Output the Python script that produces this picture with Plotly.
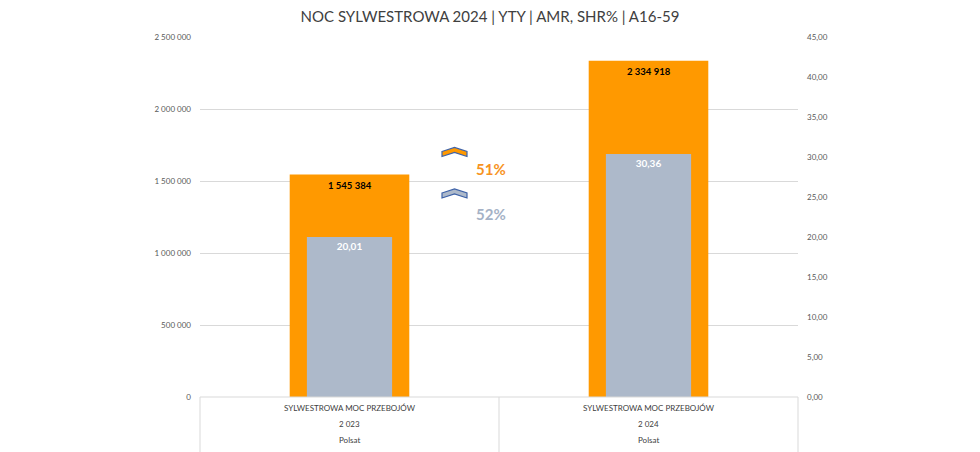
import plotly.graph_objects as go

# ---- data ----
programs = ["SYLWESTROWA MOC PRZEBOJÓW", "SYLWESTROWA MOC PRZEBOJÓW"]
years = ["2 023", "2 024"]
channels = ["Polsat", "Polsat"]
amr = [1545384, 2334918]
shr = [20.01, 30.36]
change_labels = ["51%", "52%"]

ORANGE = "#FF9900"
GREY = "#ADB9CA"
FONT = "Lato, Open Sans, sans-serif"

W, H = 980, 452
L, R, T, B = 200, 182, 37, 55
PW, PH = W - L - R, H - T - B


def px(x, y):
    """pixel -> paper coords"""
    return (x - L) / PW, (H - B - y) / PH


x = list(range(len(amr)))

fig = go.Figure()
fig.add_trace(go.Bar(
    x=x, y=amr, width=0.4, marker=dict(color=ORANGE, line_width=0),
    name="AMR", yaxis="y", hoverinfo="y",
))
fig.add_trace(go.Bar(
    x=x, y=shr, width=0.285, marker=dict(color=GREY, line_width=0),
    texttemplate="%{y:.2f}", textposition="inside", insidetextanchor="end",
    textfont=dict(family=FONT, size=10, color="white", weight="bold"),
    name="SHR%", yaxis="y2", hoverinfo="y",
))

# AMR value labels just under the bar tops
for i, v in zip(x, amr):
    fig.add_annotation(x=i, y=v, xref="x", yref="y", yshift=-11,
                       text=f"{v:,}".replace(",", " "), showarrow=False,
                       font=dict(family=FONT, size=9.5, color="black", weight="bold"))

# category table under the axis
bottom = px(0, H)[1]
for xp in (0, 1):
    fig.add_shape(type="line", xref="paper", yref="paper", x0=xp, x1=xp,
                  y0=0, y1=bottom, line=dict(color="#d9d9d9", width=1))
fig.add_shape(type="line", xref="x", yref="paper", x0=0.5, x1=0.5,
              y0=0, y1=bottom, line=dict(color="#d9d9d9", width=1))
fig.add_shape(type="line", xref="paper", yref="paper", x0=0, x1=1,
              y0=0, y1=0, line=dict(color="#d9d9d9", width=1))

for i in x:
    for row, txt in enumerate((programs[i], years[i], channels[i])):
        fig.add_annotation(
            x=i, xref="x", y=px(0, 408 + row * 16)[1], yref="paper",
            text=txt, showarrow=False, yanchor="middle",
            font=dict(family=FONT, size=8, color="#404040"),
        )

# chevrons + YoY change labels
def chevron(cx, top, fill):
    pts = [(-12.5, 4), (0, 0), (12.5, 4), (12.5, 9), (0, 5), (-12.5, 9)]
    path = "M " + " L ".join(
        "{:.5f},{:.5f}".format(*px(cx + dx, top + dy)) for dx, dy in pts) + " Z"
    fig.add_shape(type="path", xref="paper", yref="paper", path=path,
                  fillcolor=fill, line=dict(color="#3F63A8", width=1.2))


chevron(454.5, 147.5, ORANGE)
chevron(454.5, 189, GREY)
for (lbl, col, yy) in ((change_labels[0], "#F7931E", 169), (change_labels[1], "#A5B2C6", 214)):
    xp, yp = px(491, yy)
    fig.add_annotation(x=xp, y=yp, xref="paper", yref="paper", text="<b>%s</b>" % lbl,
                       showarrow=False, font=dict(family=FONT, size=15, color=col))

fig.update_layout(
    width=W, height=H,
    margin=dict(l=L, r=R, t=T, b=B),
    paper_bgcolor="white", plot_bgcolor="white",
    barmode="overlay", showlegend=False,
    separators=", ",
    title=dict(text="NOC SYLWESTROWA 2024 | YTY | AMR, SHR% | A16-59",
               x=0.5, xanchor="center", y=1 - 17 / H, yanchor="middle",
               font=dict(family=FONT, size=15, color="#404040")),
    font=dict(family=FONT, color="#595959"),
    xaxis=dict(range=[-0.5, 1.5], showticklabels=False, showgrid=False,
               zeroline=False, showline=False),
    yaxis=dict(range=[0, 2500000], dtick=500000, tickformat=",",
               showgrid=True, gridcolor="#d9d9d9", zeroline=False,
               ticks="", ticklabelstandoff=8,
               tickfont=dict(family=FONT, size=8, color="#595959")),
    yaxis2=dict(range=[0, 45], dtick=5, tickformat=".2f", overlaying="y",
                side="right", showgrid=False, zeroline=False, ticks="",
                ticklabelstandoff=8,
                tickfont=dict(family=FONT, size=8, color="#595959")),
)

# drop the default 8px body margin so the figure sits at the page origin
fig.write_html("out.html", config={"displayModeBar": False},
               post_script="document.body.style.margin='0';")
